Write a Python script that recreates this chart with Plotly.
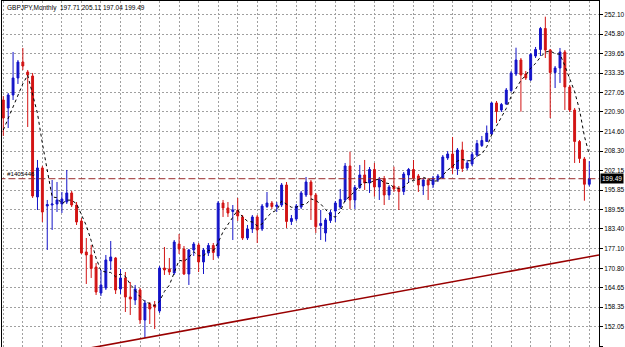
import pandas as pd
import plotly.graph_objects as go

symbol = "GBPJPY,Monthly"
ticket = "#1405446"

opens = [224.71, 222.15, 226.31, 231.76, 236.88, 233.68, 232.40, 193.64, 202.93, 190.75,
         191.07, 191.39, 191.39, 192.03, 194.92, 191.07, 185.95, 176.02, 175.06, 171.21,
         162.88, 164.49, 173.14, 174.10, 164.17, 167.69, 161.60, 160.64, 163.85, 154.23,
         159.36, 159.04, 157.12, 170.89, 170.57, 169.29, 178.58, 176.98, 168.97, 176.66,
         178.26, 172.82, 175.70, 178.10, 174.74, 191.71, 190.11, 188.99, 189.31, 187.23,
         180.50, 183.39, 187.23, 183.39, 190.59, 191.71, 190.59, 191.07, 197.48, 185.79,
         186.59, 190.43, 194.28, 198.44, 194.28, 184.51, 182.11, 186.11, 189.15, 190.43,
         192.68, 203.57, 192.68, 196.68, 200.69, 198.12, 202.45, 196.84, 199.56, 194.28,
         197.16, 196.36, 195.40, 200.69, 202.45, 200.37, 197.16, 199.08, 197.64, 199.08,
         199.72, 206.13, 207.41, 202.61, 208.69, 202.93, 204.21, 207.09, 210.13, 211.42,
         213.82, 223.75, 221.51, 223.43, 227.75, 233.04, 237.52, 233.04, 231.12, 238.81,
         240.89, 247.61, 240.73, 233.52, 234.96, 240.09, 228.88, 221.51, 211.42, 205.81,
         197.71]

highs = [225.99, 226.95, 240.09, 237.52, 241.37, 234.32, 233.36, 205.49, 203.57, 192.68,
         199.08, 198.44, 195.24, 202.29, 195.56, 192.03, 186.91, 180.50, 178.26, 172.49,
         170.25, 175.06, 179.54, 174.42, 170.57, 169.61, 166.41, 165.45, 164.49, 160.64,
         160.00, 160.32, 171.53, 177.62, 174.10, 179.86, 181.79, 177.94, 176.98, 179.22,
         178.90, 177.30, 178.90, 178.90, 192.35, 192.68, 192.03, 191.07, 193.32, 187.87,
         184.67, 187.87, 187.87, 191.39, 195.24, 192.35, 192.03, 198.12, 198.44, 187.87,
         191.39, 195.56, 200.05, 199.08, 194.92, 189.47, 186.91, 189.47, 192.35, 196.20,
         204.53, 208.15, 197.48, 203.89, 205.49, 203.24, 204.53, 200.05, 200.37, 197.48,
         203.35, 197.16, 201.65, 202.93, 205.49, 201.00, 199.72, 199.72, 200.37, 201.00,
         207.09, 208.37, 212.86, 209.33, 211.35, 205.49, 208.05, 211.90, 213.18, 216.54,
         224.07, 224.39, 223.75, 228.55, 234.00, 241.46, 238.16, 234.00, 239.77, 241.69,
         248.10, 251.39, 241.05, 235.60, 241.37, 240.73, 229.52, 222.15, 211.90, 206.45,
         205.11]

lows = [213.18, 215.74, 224.71, 229.84, 234.32, 216.06, 193.32, 189.47, 185.63, 176.66,
        183.07, 188.83, 188.51, 191.39, 190.43, 184.67, 175.38, 165.77, 167.69, 162.24,
        161.92, 163.85, 170.25, 162.56, 162.56, 156.80, 155.84, 159.04, 152.95, 148.47,
        152.95, 151.35, 156.48, 168.65, 168.65, 168.65, 175.38, 168.65, 165.45, 174.74,
        169.61, 168.97, 174.74, 173.46, 174.10, 187.23, 187.23, 179.86, 185.95, 179.86,
        179.86, 182.11, 178.90, 182.75, 190.11, 189.79, 188.83, 190.43, 183.71, 184.67,
        185.95, 189.79, 193.64, 186.27, 182.11, 179.86, 179.32, 185.31, 185.63, 189.79,
        192.03, 189.79, 189.79, 196.20, 195.88, 194.92, 193.73, 192.68, 191.07, 192.68,
        195.24, 189.47, 194.28, 198.12, 199.08, 195.24, 194.28, 192.68, 196.52, 198.44,
        199.40, 205.49, 201.00, 200.69, 201.65, 202.29, 203.57, 206.45, 209.65, 211.26,
        213.50, 217.34, 220.87, 223.11, 227.27, 232.40, 220.96, 231.12, 230.80, 238.16,
        238.81, 238.16, 218.94, 228.55, 230.16, 221.51, 220.87, 204.53, 204.53, 192.45,
        197.04]

closes = [218.94, 226.31, 231.76, 236.88, 235.60, 232.72, 193.96, 202.93, 188.83, 191.23,
          191.39, 192.68, 193.00, 194.92, 191.07, 185.63, 175.70, 175.06, 170.73, 163.20,
          165.45, 173.46, 174.42, 163.85, 167.69, 161.60, 160.96, 164.17, 154.23, 159.68,
          157.76, 158.40, 170.89, 170.25, 169.61, 179.22, 176.98, 168.97, 176.66, 178.58,
          172.82, 176.66, 178.10, 175.86, 191.71, 190.11, 188.51, 189.47, 187.55, 180.50,
          183.39, 187.23, 183.07, 190.75, 191.71, 190.59, 191.07, 197.48, 185.79, 186.75,
          190.75, 194.92, 198.44, 194.28, 184.12, 185.15, 186.27, 188.67, 191.71, 192.84,
          203.57, 192.68, 196.68, 200.69, 198.12, 202.45, 196.84, 199.24, 194.28, 196.84,
          196.20, 195.40, 201.00, 202.45, 199.72, 197.48, 199.08, 197.48, 199.72, 200.37,
          206.45, 207.41, 202.93, 208.69, 202.77, 204.53, 207.25, 210.77, 211.74, 214.14,
          223.75, 221.03, 223.27, 227.91, 233.36, 237.52, 232.72, 231.76, 239.29, 240.89,
          247.61, 240.73, 233.52, 234.96, 240.09, 228.88, 221.51, 211.42, 205.97, 197.71,
          199.49]

# moving average (dotted): first values, rest = 5-period SMA of closes
ma_head = [215.1, 218.7, 222.5, 226.3]
ma_period = 5

# trend line
trend_x = [10, 122]
trend_y = [143.04, 175.05]

y_ticks = [252.10, 245.80, 239.65, 233.35, 227.05, 220.90, 214.60, 208.30, 202.15,
           195.85, 189.55, 183.40, 177.10, 170.80, 164.65, 158.35, 152.05, 145.90]

last_o, last_h, last_l, last_c = opens[-1], highs[-1], lows[-1], closes[-1]

bars = list(range(len(closes)))
ma = pd.Series(closes).rolling(ma_period).mean().tolist()
ma[:len(ma_head)] = ma_head

BLUE = "#1414c8"
RED = "#d21414"
GRID = "#a0a0a0"
FONT = "Liberation Sans"

fig = go.Figure()

fig.add_trace(go.Scatter(
    x=[bars[0] - 1, bars[-1] + 2], y=[last_c, last_c], mode="lines",
    line=dict(color="#9a2a2a", width=1, dash="7px,3px"), hoverinfo="skip"))

fig.add_trace(go.Scatter(
    x=trend_x, y=trend_y, mode="lines",
    line=dict(color="#990000", width=1.6), hoverinfo="skip"))

fig.add_trace(go.Candlestick(
    x=bars, open=opens, high=highs, low=lows, close=closes,
    increasing=dict(line=dict(color=BLUE, width=1), fillcolor=BLUE),
    decreasing=dict(line=dict(color=RED, width=1), fillcolor=RED),
    whiskerwidth=0))

fig.add_trace(go.Scatter(
    x=bars, y=ma, mode="lines",
    line=dict(color="black", width=1, dash="dot"), hoverinfo="skip"))

fig.update_layout(
    width=625, height=347,
    margin=dict(l=2, r=26, t=1, b=0),
    paper_bgcolor="white", plot_bgcolor="white",
    showlegend=False,
    boxgap=0.45,
    font=dict(family=FONT, size=7, color="black"),
)

fig.update_xaxes(
    range=[-0.266, 121.99],
    tickvals=bars[::4], showticklabels=False, ticks="",
    showgrid=True, gridcolor=GRID, gridwidth=1, griddash="2px,2px",
    zeroline=False, showline=True, linecolor="black", linewidth=1, mirror=True,
    rangeslider=dict(visible=False),
)

fig.update_yaxes(
    side="right",
    range=[145.58, 256.42],
    tickvals=y_ticks, ticktext=[f"{v:.2f}" for v in y_ticks],
    ticks="outside", ticklen=3, tickcolor="black",
    tickfont=dict(family=FONT, size=6.5, color="black"),
    showgrid=True, gridcolor=GRID, gridwidth=1, griddash="2px,2px",
    zeroline=False, showline=True, linecolor="black", linewidth=1, mirror=True,
)

fig.add_annotation(
    xref="paper", yref="paper", x=0, y=1, xanchor="left", yanchor="top",
    xshift=3, yshift=-1, showarrow=False,
    text=f"{symbol}  {last_o:.2f} {last_h:.2f} {last_l:.2f} {last_c:.2f}",
    font=dict(family=FONT, size=6.5, color="black"))

fig.add_annotation(
    xref="paper", yref="y", x=0, y=last_c, xanchor="left", yanchor="bottom",
    xshift=3, yshift=0, showarrow=False, text=ticket,
    font=dict(family=FONT, size=6.2, color="black"))

fig.add_annotation(
    xref="paper", yref="y", x=1, y=last_c, xanchor="left", yanchor="middle",
    xshift=1, showarrow=False, text=f"{last_c:.2f}",
    bgcolor="black", borderpad=1,
    font=dict(family=FONT, size=6.5, color="white"))

fig.write_html("out.html")
